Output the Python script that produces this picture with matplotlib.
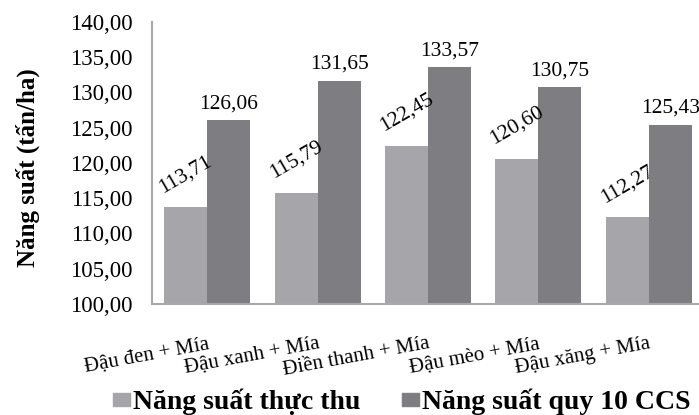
import numpy as np
import matplotlib
matplotlib.use("Agg")
from matplotlib import pyplot as plt
from matplotlib.patches import Patch

plt.rcParams['font.family'] = ['Liberation Serif', 'DejaVu Serif']

# yield per treatment (tan/ha)
categories = ["Đậu đen + Mía", "Đậu xanh + Mía", "Điền thanh + Mía",
              "Đậu mèo + Mía", "Đậu xăng + Mía"]
thuc_thu = [113.71, 115.79, 122.45, 120.60, 112.27]
quy_10ccs = [126.06, 131.65, 133.57, 130.75, 125.43]
yticks = [100, 105, 110, 115, 120, 125, 130, 135, 140]

light = "#a6a6aa"
dark = "#7e7e82"


def vn(v):
    return ("%.2f" % v).replace(".", ",")


fig = plt.figure(figsize=(6.99, 4.15), dpi=100)
ax = fig.add_axes([152 / 699, 111 / 415, 552 / 699, 282 / 415])

x = np.arange(len(categories))
w = 0.39
ax.bar(x - w / 2, thuc_thu, w, color=light)
ax.bar(x + w / 2, quy_10ccs, w, color=dark)

ax.set_ylim(100, 140)
ax.set_xlim(-0.5, len(categories) - 0.5)
ax.set_yticks(yticks)
ax.set_yticklabels([vn(v) for v in yticks])
ax.tick_params(axis='y', length=0, pad=14, labelsize=16.5)
ax.tick_params(axis='x', length=0, pad=22, labelsize=15)

ax.set_xticks(x)
ax.set_xticklabels(categories, rotation=10.5, ha='right', rotation_mode='anchor')

for s in ['top', 'right']:
    ax.spines[s].set_visible(False)
for s in ['left', 'bottom']:
    ax.spines[s].set_color("#a8a8a8")
    ax.spines[s].set_linewidth(1.5)

# value labels: tilted over the light bars, flat over the dark ones
for xi, v in zip(x, thuc_thu):
    ax.annotate(vn(v), (xi - w / 2, v),
                xytext=(0, 33), textcoords='offset pixels',
                ha='center', va='center', rotation=30, fontsize=15.5)
for xi, v in zip(x, quy_10ccs):
    ax.annotate(vn(v), (xi + w / 2, v),
                xytext=(0, 7), textcoords='offset pixels',
                ha='center', va='bottom', fontsize=15.5)

fig.text(28 / 699, 1 - 168 / 415, "Năng suất (tấn/ha)", rotation=90,
         ha='center', va='center', fontsize=18, fontweight='bold')

handles = [Patch(color=light, label="Năng suất thực thu"),
           Patch(color=dark, label="Năng suất quy 10 CCS")]
fig.legend(handles=handles, loc='center', bbox_to_anchor=(402 / 699, 1 - 402 / 415),
           ncol=2, frameon=False, prop={'weight': 'bold', 'size': 20},
           handlelength=0.62, handleheight=0.36, handletextpad=0.1,
           columnspacing=1.5, borderpad=0, borderaxespad=0)

fig.savefig("out.png", dpi=100)
